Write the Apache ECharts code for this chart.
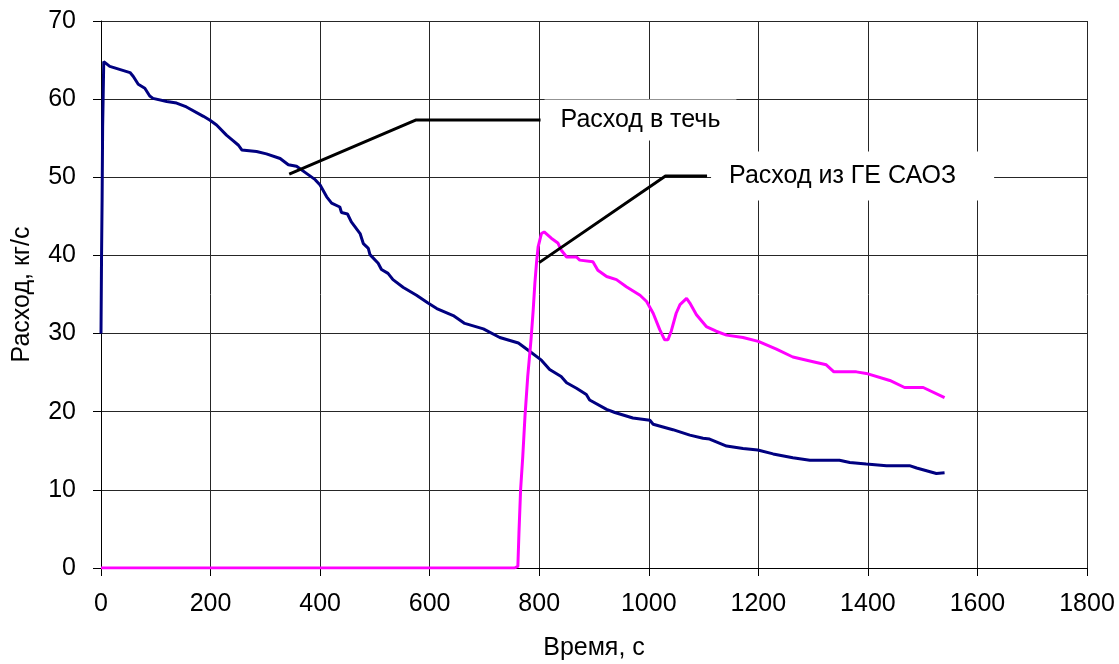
<!DOCTYPE html>
<html>
<head>
<meta charset="utf-8">
<script src="https://cdn.jsdelivr.net/npm/echarts@6/dist/echarts.min.js"></script>
<style>
  html, body { margin: 0; padding: 0; background: #fff; }
  #chart { width: 1119px; height: 664px; }
</style>
</head>
<body>
<div id="chart"></div>
<script>
// Time axis ticks (s) and flow axis ticks (kg/s)
const xTicks = [0, 200, 400, 600, 800, 1000, 1200, 1400, 1600, 1800];
const yTicks = [0, 10, 20, 30, 40, 50, 60, 70];

// Leak flow rate: [time, flow]
const leakFlow = [
  [0, 30.0], [1, 40.0], [2, 47.0], [3, 56.5], [4, 60.5], [5, 64.8], [8, 64.6],
  [16, 64.2], [53, 63.4], [59, 62.9], [68, 61.9], [80, 61.4], [89, 60.4],
  [95, 60.1], [120, 59.7], [138, 59.5], [156, 59.0], [187, 57.8], [199, 57.3],
  [211, 56.7], [229, 55.4], [241, 54.7], [251, 54.1], [257, 53.5], [284, 53.3],
  [302, 53.0], [327, 52.4], [342, 51.6], [357, 51.4], [375, 50.5], [391, 49.7],
  [400, 49.0], [412, 47.5], [421, 46.7], [436, 46.2], [439, 45.5], [450, 45.3],
  [457, 44.3], [473, 42.8], [479, 41.5], [488, 40.9], [491, 40.1], [506, 39.0],
  [512, 38.2], [524, 37.7], [533, 36.9], [552, 35.9], [576, 34.9], [597, 33.9],
  [613, 33.2], [643, 32.3], [664, 31.3], [698, 30.6], [728, 29.5], [762, 28.8],
  [783, 27.7], [804, 26.6], [819, 25.4], [840, 24.5], [850, 23.7], [868, 23.0],
  [886, 22.2], [892, 21.5], [923, 20.3], [938, 19.9], [971, 19.2], [1002, 18.9],
  [1008, 18.4], [1044, 17.7], [1075, 17.0], [1099, 16.6], [1111, 16.5],
  [1142, 15.6], [1172, 15.3], [1199, 15.1], [1227, 14.6], [1263, 14.1],
  [1294, 13.8], [1348, 13.8], [1367, 13.5], [1397, 13.3], [1434, 13.1],
  [1476, 13.1], [1489, 12.8], [1525, 12.1], [1540, 12.2]
];

// Flow from the ECCS hydroaccumulators: [time, flow]
const eccsFlow = [
  [0, 0], [755, 0], [761, 0.2], [763, 4.5], [766, 10.0], [770, 14.3],
  [774, 19.4], [779, 24.5], [785, 29.2], [789, 33.0], [792, 36.4], [795, 39.0],
  [798, 41.1], [804, 42.8], [809, 43.0], [822, 42.2], [834, 41.6], [840, 40.7],
  [850, 39.8], [868, 39.8], [874, 39.4], [898, 39.2], [907, 38.1], [923, 37.3],
  [941, 36.9], [959, 36.0], [984, 34.9], [996, 34.1], [1008, 32.6], [1020, 30.5],
  [1029, 29.2], [1035, 29.2], [1041, 30.3], [1050, 32.6], [1057, 33.7],
  [1069, 34.5], [1075, 33.9], [1087, 32.4], [1105, 30.9], [1123, 30.3],
  [1142, 29.8], [1172, 29.5], [1200, 29.0], [1233, 28.0], [1263, 27.0],
  [1300, 26.4], [1324, 26.0], [1338, 25.1], [1379, 25.1], [1397, 24.9],
  [1440, 24.0], [1467, 23.1], [1501, 23.1], [1540, 21.8]
];

// Callout leader lines pointing at each curve
const leakCallout = [[343.6, 50.4], [574.3, 57.33], [802.4, 57.33]];
const eccsCallout = [[799.8, 39.08], [1030.5, 50.17], [1106.4, 50.17]];

const leakName = 'Расход в течь';
const eccsName = 'Расход из ГЕ САОЗ';
const xName = 'Время, с';
const yName = 'Расход, кг/с';

const FONT = '"Liberation Sans", Arial, sans-serif';
const FS = 25;
const GRID_COLOR = '#262626';

const chart = echarts.init(document.getElementById('chart'), null, { renderer: 'canvas' });

function calloutSeries(data, text, pad) {
  return {
    type: 'line',
    data: data,
    symbol: 'none',
    silent: true,
    z: 5,
    lineStyle: { color: '#000', width: 3 },
    endLabel: {
      show: true,
      formatter: text,
      color: '#000',
      fontFamily: FONT,
      fontSize: FS,
      backgroundColor: '#fff',
      padding: pad,
      distance: 4
    }
  };
}

chart.setOption({
  animation: false,
  backgroundColor: '#fff',
  grid: { left: 101, right: 32, top: 21, bottom: 96, containLabel: false, outerBoundsMode: 'none' },
  xAxis: {
    type: 'value',
    min: xTicks[0],
    max: xTicks[xTicks.length - 1],
    interval: xTicks[1] - xTicks[0],
    name: xName,
    nameLocation: 'middle',
    nameGap: 68,
    nameTextStyle: { color: '#000', fontFamily: FONT, fontSize: FS },
    axisLine: { show: true, onZero: false, lineStyle: { color: '#000', width: 1 } },
    axisTick: { show: true, inside: false, length: 8, lineStyle: { color: '#000' } },
    axisLabel: { color: '#000', fontFamily: FONT, fontSize: FS, margin: 24, formatter: v => String(v) },
    splitLine: { show: true, lineStyle: { color: GRID_COLOR, width: 1 } }
  },
  yAxis: {
    type: 'value',
    min: yTicks[0],
    max: yTicks[yTicks.length - 1],
    interval: yTicks[1] - yTicks[0],
    name: yName,
    nameLocation: 'middle',
    nameGap: 66,
    nameRotate: 90,
    nameTextStyle: { color: '#000', fontFamily: FONT, fontSize: FS },
    axisLine: { show: true, lineStyle: { color: '#000', width: 1 } },
    axisTick: { show: true, inside: false, length: 8, lineStyle: { color: '#000' } },
    axisLabel: { color: '#000', fontFamily: FONT, fontSize: FS, margin: 25, formatter: v => String(v) },
    splitLine: { show: true, lineStyle: { color: GRID_COLOR, width: 1 } }
  },
  series: [
    {
      name: leakName,
      type: 'line',
      data: leakFlow,
      symbol: 'none',
      z: 3,
      lineStyle: { color: '#000080', width: 3 }
    },
    {
      name: eccsName,
      type: 'line',
      data: eccsFlow,
      symbol: 'none',
      z: 4,
      lineStyle: { color: '#FF00FF', width: 3 }
    },
    calloutSeries(leakCallout, leakName, [8, 16, 8, 16]),
    calloutSeries(eccsCallout, eccsName, [12, 38, 12, 18])
  ]
});
</script>
</body>
</html>
